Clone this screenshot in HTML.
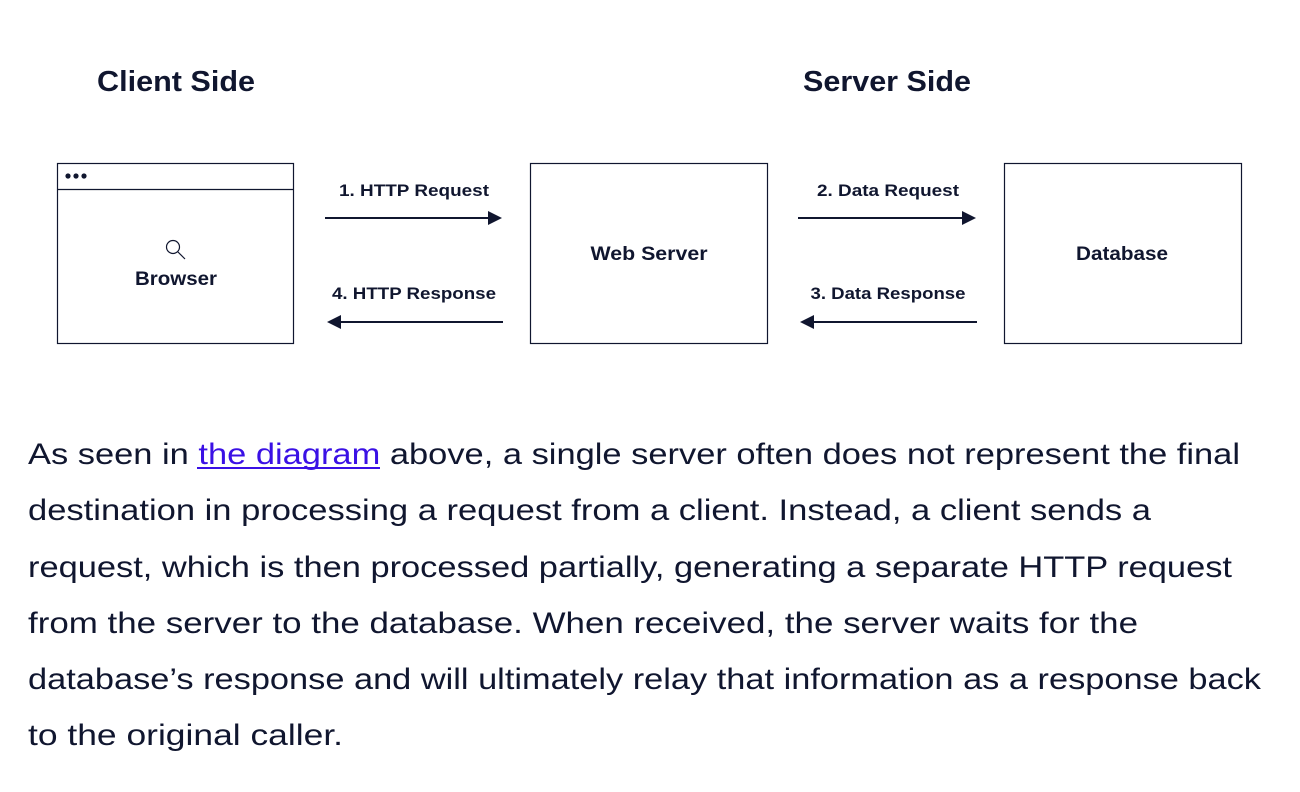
<!DOCTYPE html>
<html><head><meta charset="utf-8"><style>html,body{margin:0;padding:0;background:#fff}svg{display:block}</style></head>
<body>
<svg width="1300" height="792" viewBox="0 0 1300 792" xmlns="http://www.w3.org/2000/svg" font-family="Liberation Sans, sans-serif" fill="#10162f">
<g font-weight="bold">
<text x="176" y="91" font-size="29" text-anchor="middle" textLength="158" lengthAdjust="spacingAndGlyphs">Client Side</text>
<text x="887" y="91" font-size="29" text-anchor="middle" textLength="168" lengthAdjust="spacingAndGlyphs">Server Side</text>
</g>
<g fill="none" stroke="#10162f" stroke-width="1.2">
<rect x="57.5" y="163.5" width="236" height="180"/>
<line x1="57" y1="189.5" x2="293" y2="189.5"/>
<rect x="530.5" y="163.5" width="237" height="180"/>
<rect x="1004.5" y="163.5" width="237" height="180"/>
<circle cx="173" cy="247" r="6.5"/>
<line x1="178" y1="252" x2="185" y2="259"/>
<g stroke-width="2">
<line x1="325" y1="218" x2="490" y2="218"/>
<line x1="340" y1="322" x2="503" y2="322"/>
<line x1="798" y1="218" x2="964" y2="218"/>
<line x1="813" y1="322" x2="977" y2="322"/>
</g>
</g>
<circle cx="68" cy="176" r="2.6"/><circle cx="76" cy="176" r="2.6"/><circle cx="84" cy="176" r="2.6"/>
<polygon points="488,211 502,218 488,225"/>
<polygon points="341,315 327,322 341,329"/>
<polygon points="962,211 976,218 962,225"/>
<polygon points="814,315 800,322 814,329"/>
<g font-size="17" font-weight="bold" text-anchor="middle">
<text x="414" y="196" textLength="150" lengthAdjust="spacingAndGlyphs">1. HTTP Request</text>
<text x="414" y="299" textLength="164" lengthAdjust="spacingAndGlyphs">4. HTTP Response</text>
<text x="888" y="196" textLength="142" lengthAdjust="spacingAndGlyphs">2. Data Request</text>
<text x="888" y="299" textLength="155" lengthAdjust="spacingAndGlyphs">3. Data Response</text>
</g>
<g font-size="19" font-weight="bold" text-anchor="middle">
<text x="176" y="285" textLength="82" lengthAdjust="spacingAndGlyphs">Browser</text>
<text x="649" y="260" textLength="117" lengthAdjust="spacingAndGlyphs">Web Server</text>
<text x="1122" y="260" textLength="92" lengthAdjust="spacingAndGlyphs">Database</text>
</g>
<g font-size="30">
<text x="28" y="464" textLength="1212" lengthAdjust="spacingAndGlyphs">As seen in <tspan fill="#3a10e5">the diagram</tspan> above, a single server often does not represent the final</text>
<line x1="197" y1="468" x2="380" y2="468" stroke="#3a10e5" stroke-width="2"/>
<text x="28" y="520" textLength="1123" lengthAdjust="spacingAndGlyphs">destination in processing a request from a client. Instead, a client sends a</text>
<text x="28" y="577" textLength="1204" lengthAdjust="spacingAndGlyphs">request, which is then processed partially, generating a separate HTTP request</text>
<text x="28" y="633" textLength="1110" lengthAdjust="spacingAndGlyphs">from the server to the database. When received, the server waits for the</text>
<text x="28" y="689" textLength="1233" lengthAdjust="spacingAndGlyphs">database’s response and will ultimately relay that information as a response back</text>
<text x="28" y="745" textLength="315" lengthAdjust="spacingAndGlyphs">to the original caller.</text>
</g>
</svg>
</body></html>
